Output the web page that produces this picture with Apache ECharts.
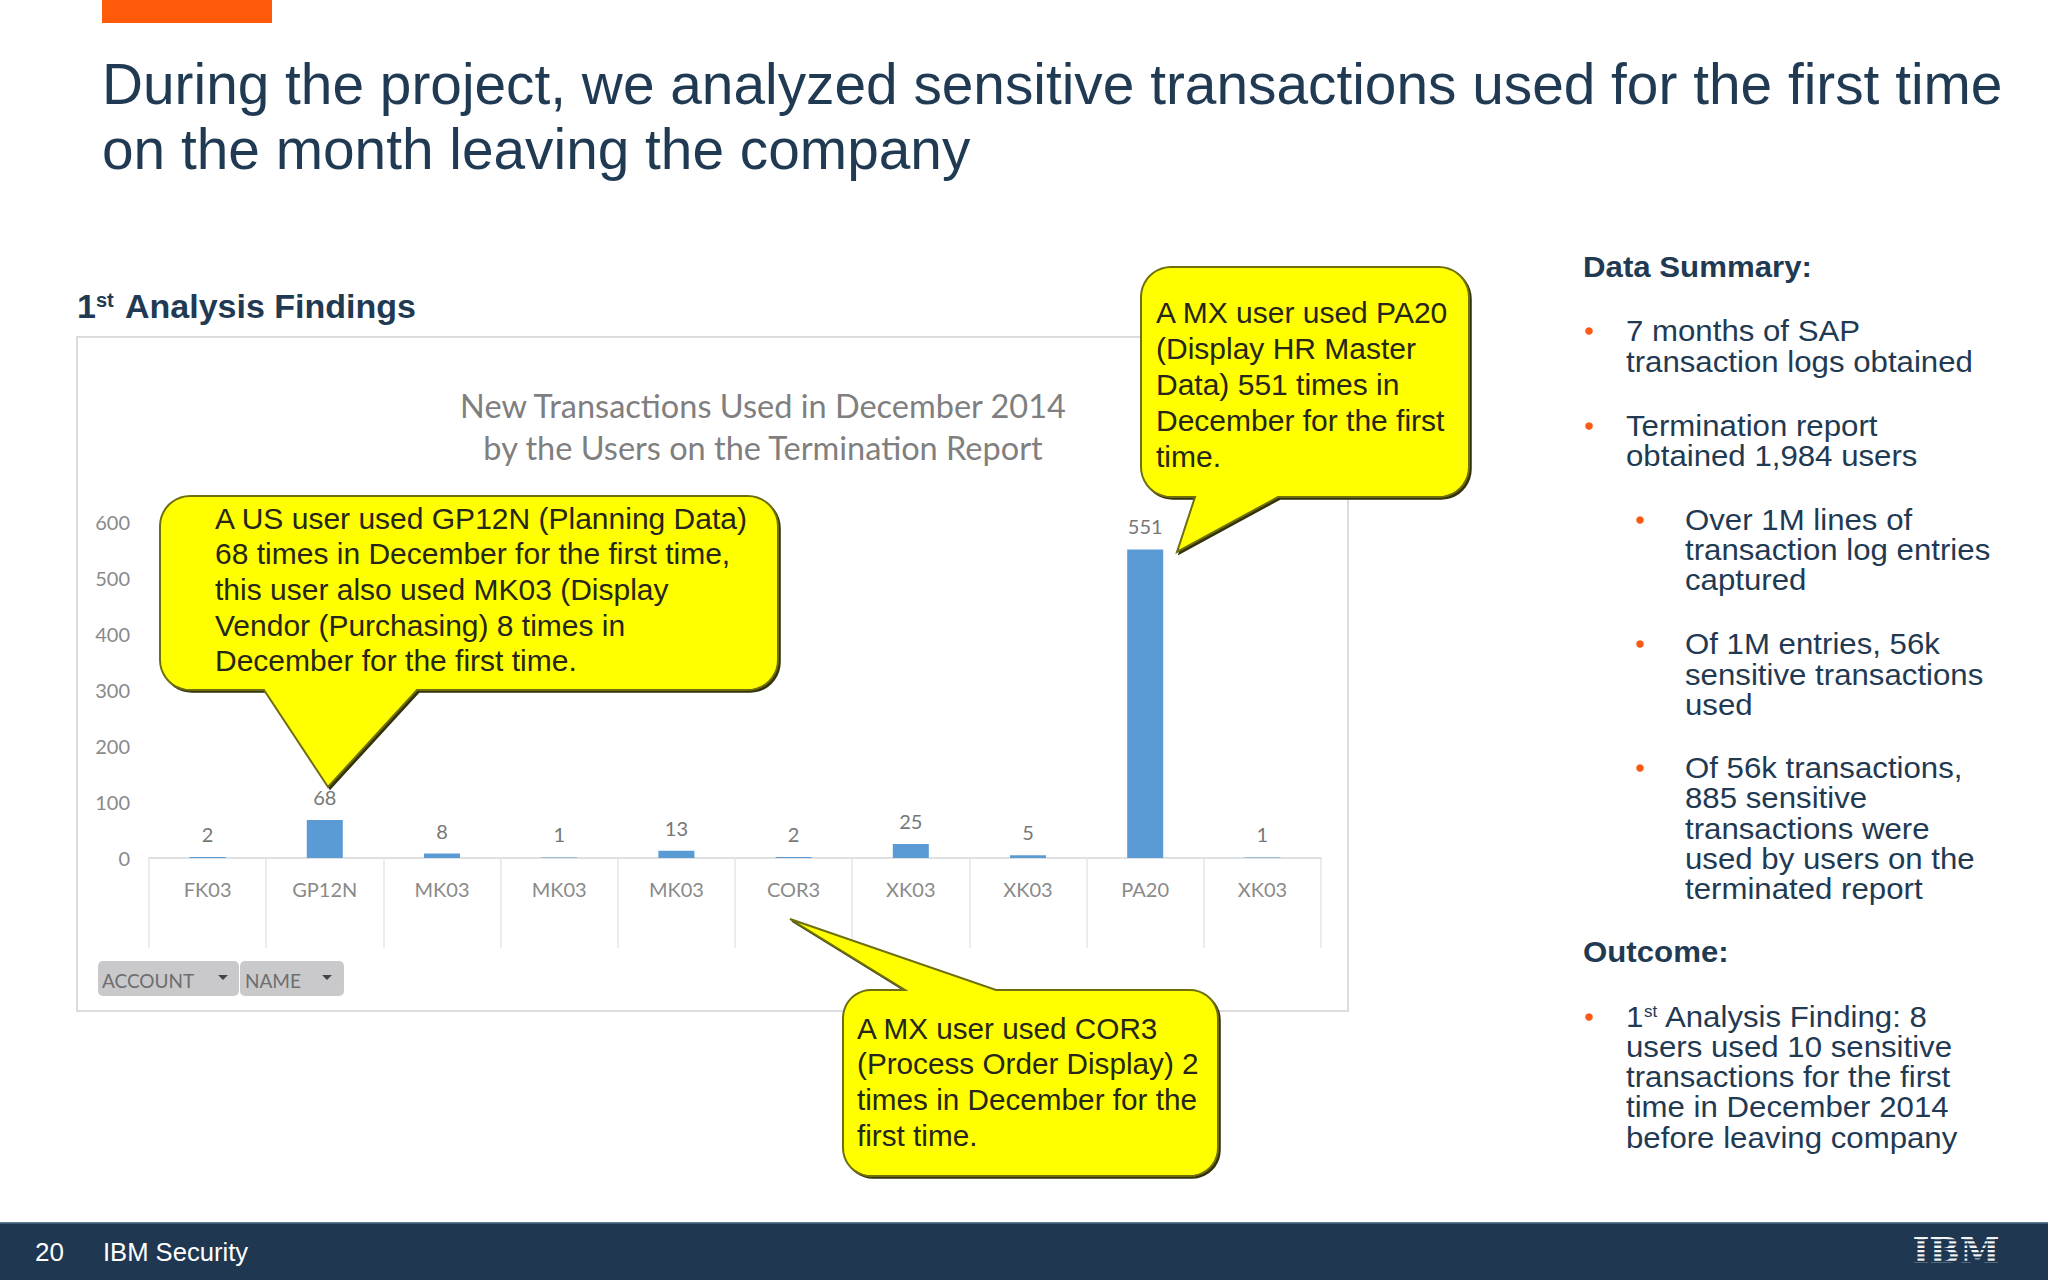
<!DOCTYPE html>
<html><head><meta charset="utf-8">
<style>html,body{margin:0;padding:0;background:#fff}#c{width:2048px;height:1280px}</style>
<script src="https://cdn.jsdelivr.net/npm/echarts@6/dist/echarts.min.js"></script>
</head><body><div id="c"></div>
<script>
const categories = ['FK03','GP12N','MK03','MK03','MK03','COR3','XK03','XK03','PA20','XK03'];
const transactionCounts = [2,68,8,1,13,2,25,5,551,1];
const chartTitle = 'New Transactions Used in December 2014\nby the Users on the Termination Report';
const slideTitle = ['During the project, we analyzed sensitive transactions used for the first time','on the month leaving the company'];
const calloutUS = ['A US user used GP12N (Planning Data)','68 times in December for the first time,','this user also used MK03 (Display','Vendor (Purchasing) 8 times in','December for the first time.'];
const calloutPA = ['A MX user used PA20','(Display HR Master','Data) 551 times in','December for the first','time.'];
const calloutCOR = ['A MX user used COR3','(Process Order Display) 2','times in December for the','first time.'];
const summary = [
 {t:'Data Summary:',y:267,h:1},
 {b:0,y:331,t:'7 months of SAP'},{y:362,t:'transaction logs obtained'},
 {b:0,y:426,t:'Termination report'},{y:456,t:'obtained 1,984 users'},
 {b:1,y:520,t:'Over 1M lines of'},{s:1,y:550,t:'transaction log entries'},{s:1,y:580,t:'captured'},
 {b:1,y:644,t:'Of 1M entries, 56k'},{s:1,y:675,t:'sensitive transactions'},{s:1,y:705,t:'used'},
 {b:1,y:768,t:'Of 56k transactions,'},{s:1,y:798,t:'885 sensitive'},{s:1,y:829,t:'transactions were'},{s:1,y:859,t:'used by users on the'},{s:1,y:889,t:'terminated report'},
 {t:'Outcome:',y:952,h:1},
 {b:0,y:1017,t:'1',sup:1,rest:' Analysis Finding: 8'},{y:1047,t:'users used 10 sensitive'},{y:1077,t:'transactions for the first'},{y:1107,t:'time in December 2014'},{y:1138,t:'before leaving company'}
];
const NAVY='#1f3a52', ORANGE='#fb5a14', SANS='"Liberation Sans",Arial,sans-serif', CAL='Lato,"Open Sans",sans-serif';
const PANEL_SIZE=29.5, PANEL_SX=1.058;
const g=[];
function txt(t,x,y,size,fill,o){o=o||{};g.push({type:'text',x:x,y:y,z:o.z||5,scaleX:o.sx||1,style:{text:t,x:0,y:0,fontSize:size,fontFamily:o.ff||SANS,fontWeight:o.w||'normal',fill:fill,align:o.a||'left',verticalAlign:'middle'}});}
function rect(x,y,w,h,fill,o){o=o||{};g.push({type:'rect',z:o.z||1,shape:{x:x,y:y,width:w,height:h,r:o.r||0},style:{fill:fill,stroke:o.stroke||null,lineWidth:o.lw||0}});}
function arc(cx,cy,r,a0,a1){const pts=[];for(let i=0;i<=10;i++){const a=a0+(a1-a0)*i/10;pts.push([cx+r*Math.cos(a),cy+r*Math.sin(a)]);}return pts;}
function calloutPts(x0,y0,x1,y1,r,side,a,tx,ty,b){
  const H=Math.PI/2; let p=[];
  p=p.concat(arc(x0+r,y0+r,r,2*H,3*H));
  if(side==='top') p.push([a,y0],[tx,ty],[b,y0]);
  p=p.concat(arc(x1-r,y0+r,r,3*H,4*H));
  p=p.concat(arc(x1-r,y1-r,r,0,H));
  if(side==='bottom') p.push([b,y1],[tx,ty],[a,y1]);
  p=p.concat(arc(x0+r,y1-r,r,H,2*H));
  return p;
}
function callout(x0,y0,x1,y1,r,side,a,tx,ty,b,lines,lx,ly,dy,size,sx){
  const pts=calloutPts(x0,y0,x1,y1,r,side,a,tx,ty,b);
  g.push({type:'polygon',z:40,x:2,y:2,shape:{points:pts},style:{fill:'#33330a',stroke:'#33330a',lineWidth:1.5}});
  g.push({type:'polygon',z:41,shape:{points:pts},style:{fill:'#ffff00',stroke:'#6f6f10',lineWidth:2}});
  lines.forEach((l,i)=>txt(l,lx,ly+i*dy,size,'#26261a',{z:42,sx:sx}));
}
// slide chrome
rect(102,0,170,23,'#ff5a0a');
slideTitle.forEach((s,i)=>txt(s,102,84+i*65,56.8,NAVY));
txt('1',77,306,34,NAVY,{w:'bold'});
txt('st',96,300,20,NAVY,{w:'bold'});
txt('Analysis Findings',125,306,34,NAVY,{w:'bold'});
rect(77,337,1271,674,'transparent',{stroke:'#dcdcde',lw:2,z:0});
// filter buttons
rect(98,961,141,35,'#c9c9cb',{r:5,z:1});
rect(240,961,104,35,'#c9c9cb',{r:5,z:1});
txt('ACCOUNT',102,980,19,'#6e6e6e',{ff:CAL});
txt('NAME',245,980,19,'#6e6e6e',{ff:CAL});
[[223,978],[327,978]].forEach(c=>g.push({type:'polygon',z:5,shape:{points:[[c[0]-5,c[1]-3],[c[0]+5,c[1]-3],[c[0],c[1]+2]]},style:{fill:'#444'}}));
// callouts
callout(160,496,778,690,30,'bottom',264,328,787,417,calloutUS,215,518,35.7,30,1);
callout(1141,267,1469,497,30,'bottom',1195,1177,552,1278,calloutPA,1156,312,36,30,1);
callout(843,990,1218,1176,28,'top',905,790,919,996,calloutCOR,857,1028,35.9,30,0.99);
// right panel
summary.forEach(r=>{
  const indent = r.h?1583:((r.s||r.b===1)?1685:1626);
  if(r.b===0||r.b===1){g.push({type:'circle',z:5,shape:{cx:r.b?1640:1589,cy:r.y,r:3.8},style:{fill:ORANGE}});}
  if(r.sup){
    txt('1',indent,r.y,PANEL_SIZE,NAVY,{sx:PANEL_SX});
    txt('st',indent+18,r.y-6,17,NAVY);
    txt(r.rest,indent+32,r.y,PANEL_SIZE,NAVY,{sx:PANEL_SX});
  } else txt(r.t,indent,r.y,PANEL_SIZE,NAVY,{w:r.h?'bold':'normal',sx:PANEL_SX});
});
// footer
rect(0,1222,2048,58,'#1f3750',{z:10});
rect(0,1222,2048,1.5,'#5f7a94',{z:11});
txt('20',35,1252,26,'#ffffff',{z:12});
txt('IBM Security',103,1252,25.6,'#ffffff',{z:12});
txt('IBM',1956,1250,36,'#f2f4f6',{z:12,a:'center',w:'bold',ff:'"DejaVu Serif",serif'});
for(let i=0;i<8;i++) rect(1912,1235+i*4.3,90,2,'#1f3750',{z:13});

const chart=echarts.init(document.getElementById('c'),null,{renderer:'svg',width:2048,height:1280});
chart.setOption({
  animation:false,
  backgroundColor:'#ffffff',
  title:{text:chartTitle,left:758,top:379,textAlign:'center',textStyle:{fontFamily:CAL,fontWeight:'normal',fontSize:32.5,lineHeight:42,color:'#7f7f7f'}},
  grid:{left:149,right:727,top:522,bottom:422,containLabel:false},
  xAxis:{type:'category',data:categories,axisLine:{lineStyle:{color:'#dfe0e2',width:2}},
    axisTick:{show:true,length:90,lineStyle:{color:'#e6e6e8',width:1.5}},
    axisLabel:{color:'#8a8a8a',fontFamily:CAL,fontSize:20,margin:21,interval:0}},
  yAxis:{type:'value',min:0,max:600,interval:100,axisLine:{show:false},axisTick:{show:false},splitLine:{show:false},
    axisLabel:{color:'#8a8a8a',fontFamily:CAL,fontSize:20,margin:19}},
  series:[{type:'bar',data:transactionCounts,barWidth:36,itemStyle:{color:'#5b9bd5'},z:10,
    label:{show:true,position:'top',distance:13,color:'#777777',fontFamily:CAL,fontSize:20}}],
  graphic:{elements:g}
});
</script></body></html>
